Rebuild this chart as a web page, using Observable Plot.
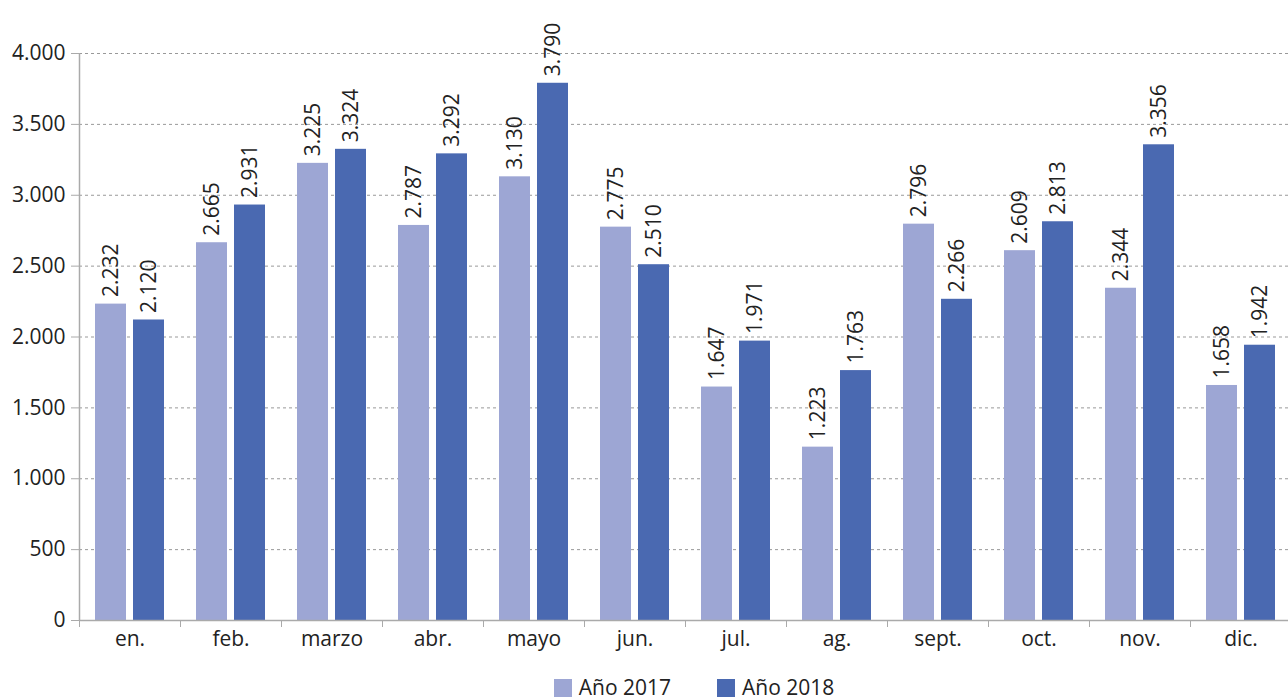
<!DOCTYPE html>
<html>
<head>
<meta charset="utf-8">
<script src="https://cdn.jsdelivr.net/npm/d3@7"></script>
<script src="https://cdn.jsdelivr.net/npm/@observablehq/plot@0.6"></script>
<style>
  body { margin: 0; background: #fff; font-family: "Open Sans", sans-serif; }
  #chart svg { display: block; overflow: visible; }
  .legend { display: flex; justify-content: center; gap: 46px; margin-top: 10px; font-size: 21px; line-height: 24px; color: #222; margin-left: 100px; }
  .legend span.sw { display: inline-block; width: 18px; height: 18px; margin-right: 7px; vertical-align: -2px; }
</style>
</head>
<body>
<div id="chart"></div>
<div class="legend">
  <div><span class="sw" style="background:#9DA6D4"></span>Año 2017</div>
  <div><span class="sw" style="background:#4A69B1"></span>Año 2018</div>
</div>
<script>
const months = ["en.", "feb.", "marzo", "abr.", "mayo", "jun.", "jul.", "ag.", "sept.", "oct.", "nov.", "dic."];
const values2017 = [2232, 2665, 3225, 2787, 3130, 2775, 1647, 1223, 2796, 2609, 2344, 1658];
const values2018 = [2120, 2931, 3324, 3292, 3790, 2510, 1971, 1763, 2266, 2813, 3356, 1942];
const yTicks = [0, 500, 1000, 1500, 2000, 2500, 3000, 3500, 4000];
const seriesNames = ["Año 2017", "Año 2018"];
const colors = ["#9DA6D4", "#4A69B1"];

const fmt = d => d3.format(",")(d).replace(/,/g, ".");
const data = [];
months.forEach((m, i) => {
  data.push({month: m, series: seriesNames[0], value: values2017[i]});
  data.push({month: m, series: seriesNames[1], value: values2018[i]});
});
const d17 = data.filter(d => d.series === seriesNames[0]);
const d18 = data.filter(d => d.series === seriesNames[1]);

const width = 1288, marginLeft = 79, marginRight = -3;
const band = (width - marginLeft - marginRight) / months.length;
const barW = 31, outer = 16;
const off = band / 2 - outer - barW / 2;
const FS = 21;

const chart = Plot.plot({
  width,
  height: 665,
  marginLeft,
  marginRight,
  marginTop: 53,
  marginBottom: 45,
  style: {fontFamily: "'Open Sans', sans-serif", fontSize: FS + "px", color: "#222"},
  x: {domain: months, padding: 0, label: null},
  y: {domain: [0, 4000], label: null},
  marks: [
    Plot.gridY(yTicks.slice(1), {stroke: "#999", strokeOpacity: 1, strokeDasharray: "3,3", strokeWidth: 1}),
    Plot.barY(d17, {x: "month", y: "value", fill: colors[0], insetLeft: outer, insetRight: band - outer - barW}),
    Plot.barY(d18, {x: "month", y: "value", fill: colors[1], insetLeft: band - outer - barW, insetRight: outer}),
    Plot.text(d17, {x: "month", y: "value", text: d => fmt(d.value), rotate: -90, textAnchor: "start", dx: -off, dy: -7, fontSize: FS, fill: "#222"}),
    Plot.text(d18, {x: "month", y: "value", text: d => fmt(d.value), rotate: -90, textAnchor: "start", dx: off, dy: -7, fontSize: FS, fill: "#222"}),
    Plot.ruleY([0], {stroke: "#aaa", strokeWidth: 1.5}),
    Plot.ruleX([months[0]], {dx: -band / 2, y1: 0, y2: 4000, stroke: "#aaa", strokeWidth: 1.5}),
    Plot.axisY({ticks: yTicks, tickFormat: fmt, tickSize: 8, tickPadding: 6, stroke: "#aaa", fontSize: FS, fill: "#222"}),
    Plot.axisX({tickSize: 0, tickPadding: 11, fontSize: FS, fill: "#222"}),
    Plot.axisX({tickFormat: () => "", tickSize: 7, dx: -band / 2, stroke: "#aaa"})
  ]
});
document.getElementById("chart").append(chart);
</script>
</body>
</html>
